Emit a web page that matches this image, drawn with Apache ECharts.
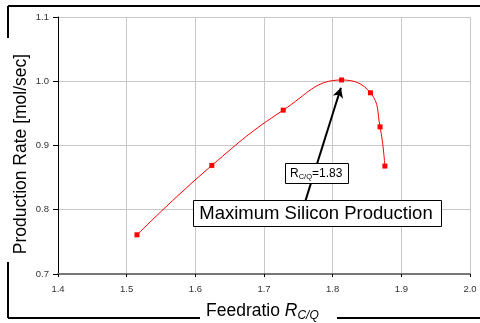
<!DOCTYPE html>
<html><head><meta charset="utf-8">
<script src="https://cdn.jsdelivr.net/npm/echarts@6/dist/echarts.min.js"></script>
<style>html,body{margin:0;padding:0;background:#fff}#c{width:480px;height:323px}</style>
</head><body><div id="c"></div>
<script>
var feedRatio = [1.515, 1.624, 1.728, 1.813, 1.855, 1.869, 1.876];
var productionRate = [0.761, 0.869, 0.955, 1.002, 0.982, 0.929, 0.868];
var xTicks = [1.4, 1.5, 1.6, 1.7, 1.8, 1.9, 2.0];
var yTicks = [0.7, 0.8, 0.9, 1.0, 1.1];
var arrowFrom = [1.758, 0.806];
var arrowTo = [1.812, 0.990];
var optLabel = 'C/Q';
var optValue = '1.83';
var chart = echarts.init(document.getElementById('c'), null, {renderer: 'canvas'});
var FONT = 'Liberation Sans, Arial, sans-serif';
chart.setOption({
  animation: false,
  backgroundColor: '#fff',
  grid: {left: 58, right: 10, top: 17, bottom: 49, containLabel: false},
  xAxis: {
    type: 'value', min: 1.4, max: 2.0, interval: 0.1,
    axisLine: {show: true, lineStyle: {color: '#777', width: 2}},
    axisTick: {show: true, length: 3, inside: false, lineStyle: {color: '#000'}},
    axisLabel: {color: '#333', fontSize: 9.5, fontFamily: FONT, margin: 10,
      formatter: function (v) { return v.toFixed(1); }},
    splitLine: {show: true, lineStyle: {color: '#c8c8c8', width: 1}}
  },
  yAxis: {
    type: 'value', min: 0.7, max: 1.1, interval: 0.1,
    axisLine: {show: true, lineStyle: {color: '#000', width: 1}},
    axisTick: {show: true, length: 5, lineStyle: {color: '#000'}},
    axisLabel: {color: '#333', fontSize: 9.5, fontFamily: FONT, margin: 9,
      formatter: function (v) { return v.toFixed(1); }},
    splitLine: {show: true, lineStyle: {color: '#c8c8c8', width: 1}}
  },
  series: [{
    type: 'line',
    data: feedRatio.map(function (x, i) { return [x, productionRate[i]]; }),
    smooth: 0.45,
    symbol: 'rect', symbolSize: 5, showSymbol: true,
    lineStyle: {color: '#ff0000', width: 1},
    itemStyle: {color: '#ff0000'},
    markLine: {
      silent: true, symbol: ['none', 'arrow'], symbolSize: [8, 10],
      label: {show: false},
      lineStyle: {color: '#000', width: 2, type: 'solid'},
      data: [[{coord: arrowFrom}, {coord: arrowTo}]]
    },
    z: 3
  }],
  graphic: [
    {type: 'line', z: 100, shape: {x1: 8, y1: 6, x2: 480, y2: 6}, style: {stroke: '#000', lineWidth: 2}},
    {type: 'line', z: 100, shape: {x1: 8, y1: 6, x2: 8, y2: 38}, style: {stroke: '#000', lineWidth: 2}},
    {type: 'line', z: 100, shape: {x1: 8, y1: 262, x2: 8, y2: 318}, style: {stroke: '#000', lineWidth: 2}},
    {type: 'line', z: 100, shape: {x1: 8, y1: 318, x2: 200, y2: 318}, style: {stroke: '#000', lineWidth: 2}},
    {type: 'line', z: 100, shape: {x1: 337, y1: 318, x2: 480, y2: 318}, style: {stroke: '#000', lineWidth: 2}},
    {type: 'text', z: 100, x: 21, y: 154, rotation: Math.PI / 2,
      style: {text: 'Production Rate [mol/sec]', fill: '#000', font: '17.5px ' + FONT, align: 'center', verticalAlign: 'middle'}},
    {type: 'text', z: 100, x: 206, y: 311,
      style: {text: 'Feedratio {i|R}{sub|C/Q}', fill: '#000', font: '17.5px ' + FONT, verticalAlign: 'middle',
        rich: {i: {fontSize: 17.5, fontStyle: 'italic', fontFamily: FONT, fill: '#000'},
               sub: {fontSize: 12, fontStyle: 'italic', fontFamily: FONT, fill: '#000', padding: [9, 0, 0, 0]}}}},
    {type: 'rect', z: 100, shape: {x: 285.5, y: 163.5, width: 63, height: 20}, style: {fill: '#fff', stroke: '#000', lineWidth: 1}},
    {type: 'text', z: 101, x: 290, y: 174,
      style: {text: 'R{sub|' + optLabel + '}=' + optValue, fill: '#000', font: '12px ' + FONT, verticalAlign: 'middle',
        rich: {sub: {fontSize: 7.5, fontFamily: FONT, fill: '#000', padding: [5, 0, 0, 0]}}}},
    {type: 'rect', z: 100, shape: {x: 193.5, y: 200.5, width: 248, height: 26}, style: {fill: '#fff', stroke: '#000', lineWidth: 1}},
    {type: 'text', z: 101, x: 316, y: 214,
      style: {text: 'Maximum Silicon Production', fill: '#000', font: '18.5px ' + FONT, align: 'center', verticalAlign: 'middle'}}
  ]
});
</script></body></html>
